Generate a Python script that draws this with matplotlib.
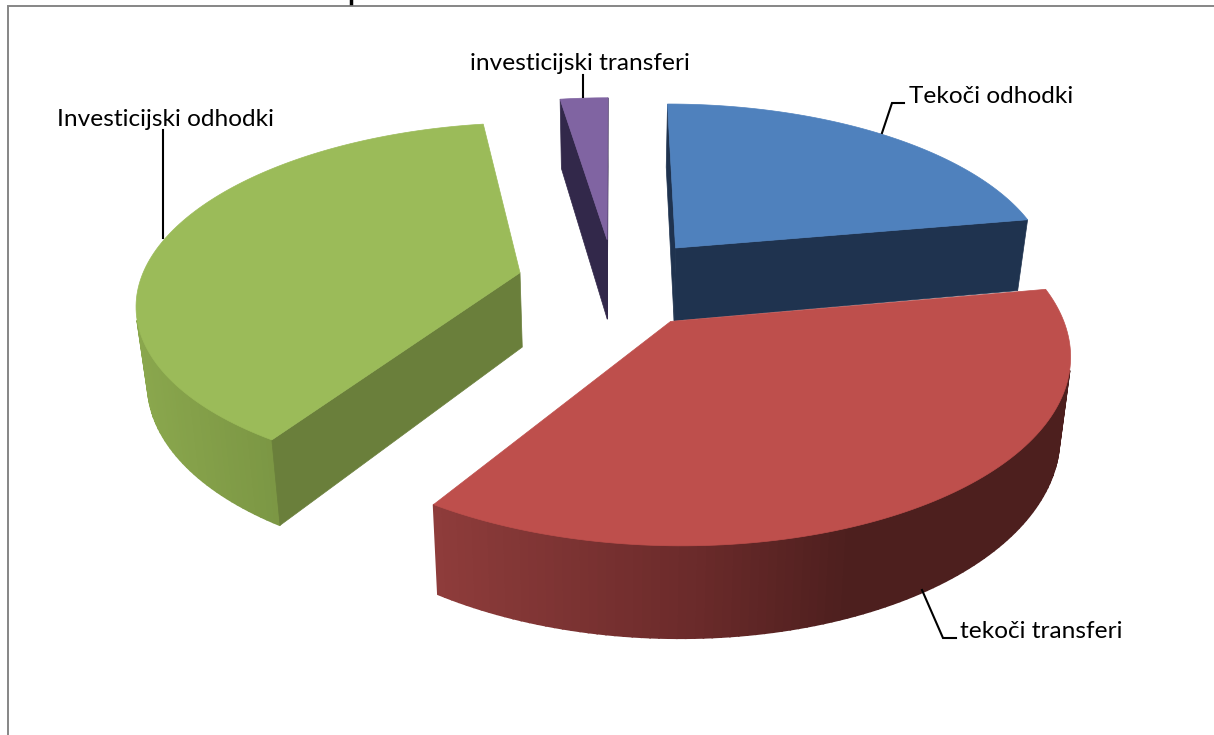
import numpy as np
import matplotlib
matplotlib.use('Agg')
import matplotlib.pyplot as plt
from matplotlib.colors import to_rgb
from matplotlib.patches import Polygon

plt.rcParams['font.family'] = ['Lato', 'DejaVu Sans']

labels = ['Tekoči odhodki', 'tekoči transferi', 'Investicijski odhodki', 'investicijski transferi']
values = [22.2, 36.9, 38.5, 2.4]

top_colors = ['#4f81bd', '#be4f4c', '#9bbb59', '#8064a2']
cut_colors = ['#1f334f', '#4d1f1e', '#6a7f3b', '#32284a']
# gradient of the outer wall, (screen x, colour)
wall_stops = [
    [(670, '#1f334f'), (1030, '#1f334f')],
    [(435, '#8e3c3b'), (700, '#6a2a2a'), (850, '#4d1f1e'), (1070, '#4d1f1e')],
    [(136, '#8aa74d'), (285, '#7a9543')],
    [(560, '#32284a'), (610, '#32284a')],
]
explode = [0.26, 0.26, 0.255, 0.25]
heights = [1, 1, 1, 1.1]

cx, cy = 614, 282
R, Rb = 380, 176
p = 0.155
depth = 75
shrink = 0.976


def project(x, y, z=0):
    w = 1 + p * y
    sx = cx + R * x / w
    sy = cy - Rb * y / w + depth * z / w
    if z:
        sx = cx + (sx - cx) * shrink
    return sx, sy


def area(pts):
    a = 0
    for i in range(len(pts)):
        x0, y0 = pts[i]
        x1, y1 = pts[(i + 1) % len(pts)]
        a += x0 * y1 - x1 * y0
    return a


fig = plt.figure(figsize=(12.14, 7.35), dpi=100)
ax = fig.add_axes([0, 0, 1, 1])
ax.set_xlim(0, 1214)
ax.set_ylim(735, 0)
ax.axis('off')

# chart border, only top and left are in the crop
ax.plot([8, 8, 1214], [735, 6, 6], color='#868686', lw=1.4, solid_joinstyle='miter')
ax.plot([351, 351], [0, 2.5], color='black', lw=2.5)

angles = 90 - np.concatenate([[0], np.cumsum(values)]) * 3.6

for i in [3, 0, 2, 1]:
    a0, a1 = np.radians(angles[i]), np.radians(angles[i + 1])
    mid = (a0 + a1) / 2
    ox, oy = explode[i] * np.cos(mid), explode[i] * np.sin(mid)
    t = np.linspace(a0, a1, 120)
    xs = ox + np.cos(t)
    ys = oy + np.sin(t)

    tops = [project(a, b) for a, b in zip(xs, ys)]
    bots = [project(a, b, heights[i]) for a, b in zip(xs, ys)]
    apex_t = project(ox, oy)
    apex_b = project(ox, oy, heights[i])

    stop_x = [s[0] for s in wall_stops[i]]
    stop_c = np.array([to_rgb(s[1]) for s in wall_stops[i]])
    for j in range(len(tops) - 1):
        quad = [tops[j], tops[j + 1], bots[j + 1], bots[j]]
        if area(quad) < 0:
            mx = (tops[j][0] + tops[j + 1][0]) / 2
            col = [np.interp(mx, stop_x, stop_c[:, k]) for k in range(3)]
            ax.add_patch(Polygon(quad, closed=True, fc=col, ec=col, lw=1.2))

    start_face = [apex_t, tops[0], bots[0], apex_b]
    end_face = [apex_t, tops[-1], bots[-1], apex_b]
    if area(start_face) < 0:
        ax.add_patch(Polygon(start_face, closed=True, fc=cut_colors[i], ec=cut_colors[i], lw=0.5))
    if area(end_face) > 0:
        ax.add_patch(Polygon(end_face, closed=True, fc=cut_colors[i], ec=cut_colors[i], lw=0.5))
    ax.add_patch(Polygon([apex_t] + tops, closed=True, fc=top_colors[i], ec=top_colors[i], lw=0.5))

# leader lines
leaders = [
    ([904, 892, 882], [103, 103, 133]),
    ([956, 943, 922], [638, 638, 590]),
    ([163, 163], [130, 238]),
    ([583, 583], [75, 97]),
]
for lx, ly in leaders:
    ax.plot(lx, ly, color='black', lw=1.5, solid_joinstyle='miter')

text_pos = [(909, 103), (960, 638), (57, 126), (470, 70)]
for lab, (tx, ty) in zip(labels, text_pos):
    ax.text(tx, ty, lab, fontsize=17.6, color='black', ha='left', va='baseline')

fig.savefig('out.png', dpi=100)
